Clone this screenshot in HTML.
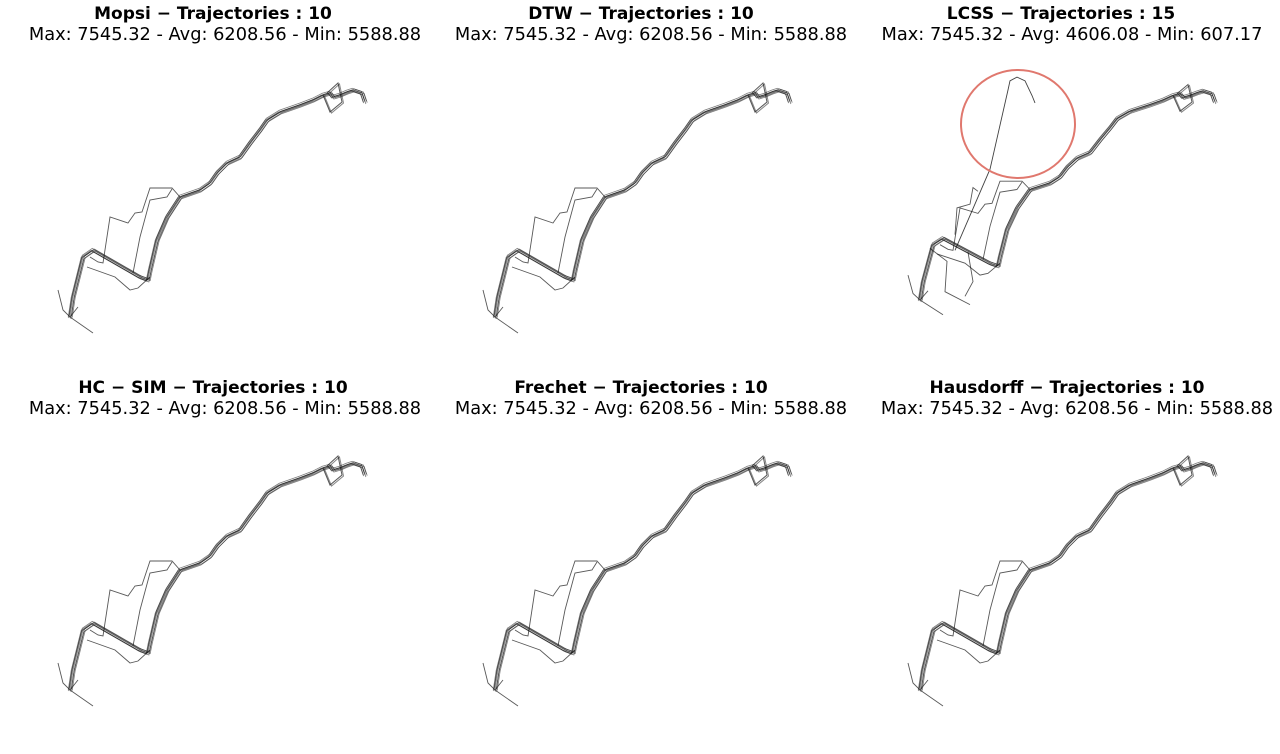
<!DOCTYPE html>
<html><head><meta charset="utf-8"><style>
body{margin:0;background:#fff;width:1280px;height:754px;overflow:hidden}
svg{display:block}
text{font-family:"DejaVu Sans","Liberation Sans",sans-serif;fill:#000}
</style></head><body>
<svg id="c" width="1280" height="754"></svg>
<script>
const panelTitles=["Mopsi \u2212 Trajectories : 10","DTW \u2212 Trajectories : 10","LCSS \u2212 Trajectories : 15","HC \u2212 SIM \u2212 Trajectories : 10","Frechet \u2212 Trajectories : 10","Hausdorff \u2212 Trajectories : 10"];
const panelStats=["Max: 7545.32 - Avg: 6208.56 - Min: 5588.88","Max: 7545.32 - Avg: 6208.56 - Min: 5588.88","Max: 7545.32 - Avg: 4606.08 - Min: 607.17","Max: 7545.32 - Avg: 6208.56 - Min: 5588.88","Max: 7545.32 - Avg: 6208.56 - Min: 5588.88","Max: 7545.32 - Avg: 6208.56 - Min: 5588.88"];
const mainX=[30,33,43,53,100,108,110,117,127,140,160,170,177,187,200,210,220,227,240,260,273,283,290,293,300,307,313,322,325];
const mainY=[247,227,187,180,207,210,200,170,147,127,120,113,103,93,87,73,60,50,42,35,30,25,23,27,25,22,20,23,32];
const detAX=[50,58,63,70,88,95,102,110,132,140];
const detAY=[187,192,193,147,153,143,142,118,118,127];
const detBX=[93,100,110,127,132];
const detBY=[203,167,130,127,119];
const detCX=[47,75,90,98,110];
const detCY=[197,207,220,218,207];
const tailX=[30,53];
const tailY=[247,263];
const spikeX=[18,23,30,38];
const spikeY=[220,240,247,237];
const boxX=[283,290,302,298,287];
const boxY=[25,42,32,13,23];
const outX=[65,100,118,120,127,135,142,145];
const outY=[193,105,19,9,5,9,25,33];
const lcssDX=[40,57,55,80];
const lcssDY=[191,205,238,252];
const lcssEX=[78,83,75];
const lcssEY=[195,227,243];
const lcssFX=[65,67,80,83,88];
const lcssFY=[176,147,143,125,129];
const svg=document.getElementById('c');
const NS='http://www.w3.org/2000/svg';
const offX=[0,425,850,0,425,850], offY=[0,0,5,373,373,373];
const jit=[[0,0],[1.4,-0.9],[-1.2,1.1],[2.2,0.6],[-0.7,-1.7],[0.9,2],[-1.8,0.3]];
function sx(p,x){return offX[p]+40+x;}
function sy(p,y){ if(p===2) return 70+31.7+(y-31.7)*0.921; return offY[p]+70+y;}
function line(p,xs,ys,dx,dy,name,w,op){
  const pl=document.createElementNS(NS,'polyline');
  pl.setAttribute('points',xs.map((x,i)=>(sx(p,x)+dx).toFixed(1)+','+(sy(p,ys[i])+dy).toFixed(1)).join(' '));
  pl.setAttribute('fill','none');pl.setAttribute('stroke','#111');
  pl.setAttribute('stroke-width',w);pl.setAttribute('stroke-opacity',op);
  
  
  svg.appendChild(pl);
}
const tcx=[213,641,1061,213,641,1067];
const scx=[225,651,1072,225,651,1077];
for(let p=0;p<6;p++){
  const g=(p<3?0:374);
  const t=document.createElementNS(NS,'text');
  t.setAttribute('x',tcx[p]);t.setAttribute('y',19+g);t.setAttribute('text-anchor','middle');
  t.setAttribute('font-size','17');t.setAttribute('font-weight','bold');t.textContent=panelTitles[p];
  
  
  svg.appendChild(t);
  const s=document.createElementNS(NS,'text');
  s.setAttribute('x',scx[p]);s.setAttribute('y',40+g);s.setAttribute('text-anchor','middle');
  s.setAttribute('font-size','17.8');s.textContent=panelStats[p];
  
  
  svg.appendChild(s);
  for(const [dx,dy] of jit){ line(p,mainX,mainY,dx,dy,'trajectory-main',0.8,0.55); }
  line(p,boxX,boxY,0,0,'trajectory-loop',1,0.7);
  line(p,boxX,boxY,1.5,1,'trajectory-loop',1,0.5);
  line(p,detAX,detAY,0,0,'trajectory-detour',0.9,0.7);
  line(p,detBX,detBY,0,0,'trajectory-detour',0.9,0.7);
  line(p,detCX,detCY,0,0,'trajectory-detour',0.9,0.7);
  line(p,tailX,tailY,0,0,'trajectory-tail',0.9,0.7);
  line(p,spikeX,spikeY,0,0,'trajectory-spike',0.9,0.7);
  if(p===2){
    line(p,outX,outY,0,0,'outlier-trajectory',0.9,0.8);
    line(p,lcssDX,lcssDY,0,0,'lcss-detour',0.9,0.7);
    line(p,lcssEX,lcssEY,0,0,'lcss-detour',0.9,0.7);
    line(p,lcssFX,lcssFY,0,0,'lcss-detour',0.9,0.7);
    const e=document.createElementNS(NS,'ellipse');
    e.setAttribute('cx',1018);e.setAttribute('cy',124);e.setAttribute('rx',57);e.setAttribute('ry',54);
    e.setAttribute('fill','none');e.setAttribute('stroke','#e0786e');e.setAttribute('stroke-width','2');
    
    
    svg.appendChild(e);
  }
}
</script>
</body></html>
